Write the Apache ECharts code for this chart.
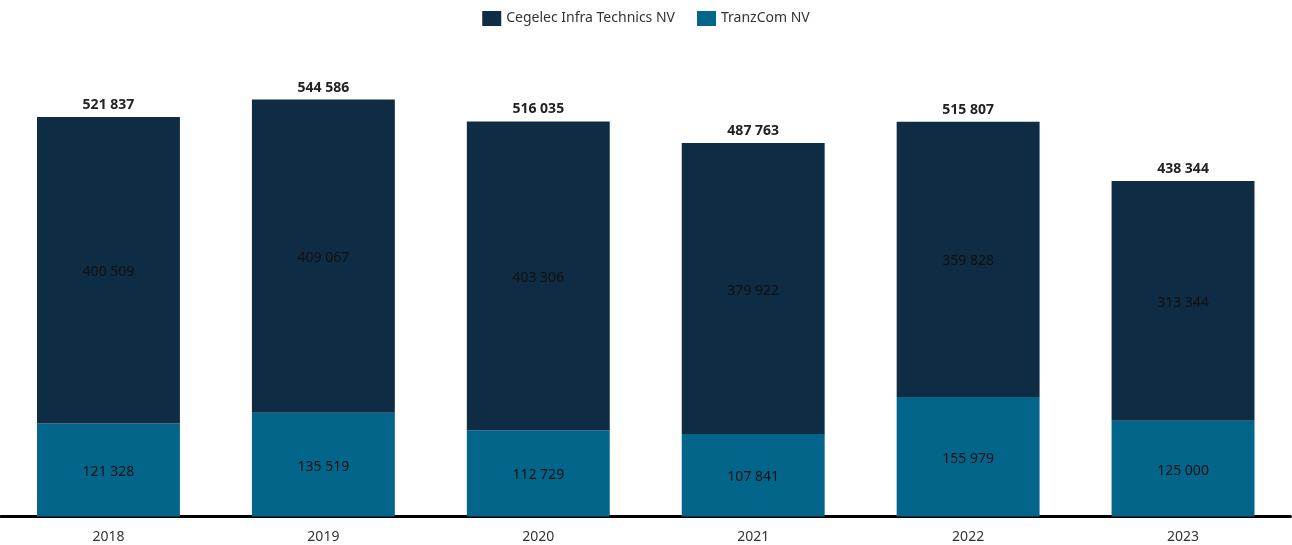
<!DOCTYPE html>
<html><head><meta charset="utf-8">
<script src="https://cdn.jsdelivr.net/npm/echarts@6/dist/echarts.min.js"></script>
<style>html,body{margin:0;padding:0;background:#fff}#c{width:1292px;height:545px}</style>
</head><body><div id="c"></div>
<script>
const categories = ['2018','2019','2020','2021','2022','2023'];
const tranzcom = [121328, 135519, 112729, 107841, 155979, 125000];
const cegelec = [400509, 409067, 403306, 379922, 359828, 313344];
const totals = [521837, 544586, 516035, 487763, 515807, 438344];

const fmt = v => String(v).replace(/\B(?=(\d{3})+(?!\d))/g, ' ');
const font = '"Noto Sans", "Open Sans", sans-serif';
const chart = echarts.init(document.getElementById('c'));
chart.setOption({
  animation: false,
  textStyle: {fontFamily: font},
  legend: {
    top: 6, left: 'center', itemWidth: 19, itemHeight: 15, itemGap: 22, icon: 'rect',
    data: ['Cegelec Infra Technics NV', 'TranzCom NV'],
    textStyle: {fontSize: 14, color: '#333', fontFamily: font}
  },
  grid: {left: 1, right: 1.5, top: 57.2, bottom: 28.5, containLabel: false},
  xAxis: {
    type: 'category', data: categories,
    axisLine: {lineStyle: {color: '#000', width: 3}},
    axisTick: {show: false},
    axisLabel: {fontSize: 14, color: '#333', margin: 14, fontFamily: font}
  },
  yAxis: {type: 'value', min: 0, max: 600000, show: false, splitLine: {show: false}},
  series: [
    {
      name: 'TranzCom NV', type: 'bar', stack: 's', data: tranzcom, barWidth: '66.5%',
      itemStyle: {color: '#04658b'},
      label: {show: true, position: 'inside', offset: [0, 2], color: '#111', fontSize: 14, formatter: p => fmt(p.value)}
    },
    {
      name: 'Cegelec Infra Technics NV', type: 'bar', stack: 's', data: cegelec,
      itemStyle: {color: '#0f2c45'},
      label: {show: true, position: 'inside', offset: [0, 2], color: '#111', fontSize: 14, formatter: p => fmt(p.value)}
    },
    {
      name: 'total', type: 'bar', data: totals, barGap: '-100%', barWidth: '66.5%', z: 0,
      itemStyle: {color: 'rgba(0,0,0,0)'},
      label: {show: true, position: 'top', distance: 5, color: '#222', fontWeight: 'bold', fontSize: 14, formatter: p => fmt(p.value)}
    }
  ]
});
</script></body></html>
